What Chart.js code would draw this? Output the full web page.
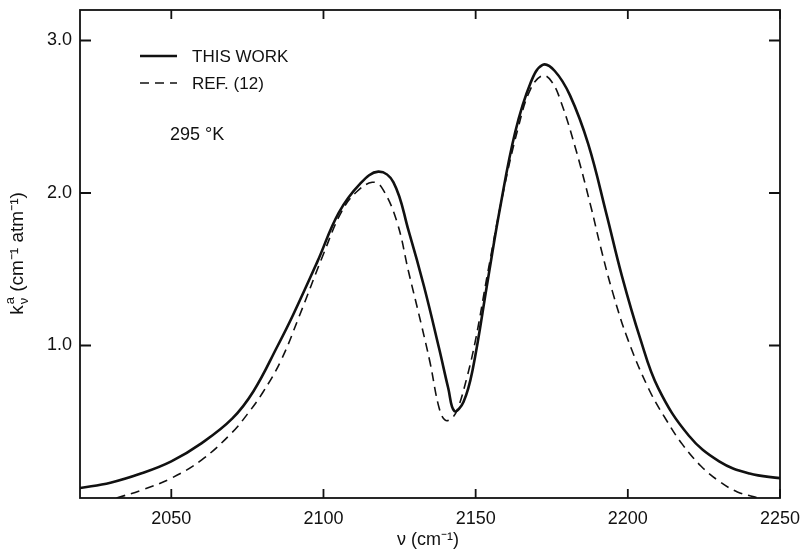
<!DOCTYPE html>
<html lang="en">
<head>
<meta charset="UTF-8">
<title>Absorption coefficient, 295 K</title>
<script src="https://cdn.jsdelivr.net/npm/chart.js"></script>
<style>
  body { margin: 0; background: #fff; }
  canvas { display: block; }
</style>
</head>
<body>
<canvas id="chart" width="802" height="549"></canvas>
<script>
// axis ticks
const xTicks = [2050, 2100, 2150, 2200, 2250];
const yTicks = [1, 2, 3];

// "THIS WORK" curve (solid)
const thisWorkX = [2020, 2030, 2040, 2050, 2060, 2070, 2077, 2085, 2090, 2098, 2105, 2112, 2118, 2123, 2128, 2133, 2138, 2141, 2143, 2146, 2149, 2154, 2158, 2163, 2168, 2172, 2176, 2181, 2187, 2193, 2198, 2204, 2210, 2220, 2230, 2240, 2250];
const thisWorkY = [0.065, 0.10, 0.16, 0.24, 0.36, 0.52, 0.70, 1.00, 1.20, 1.55, 1.87, 2.06, 2.14, 2.07, 1.75, 1.39, 0.98, 0.72, 0.57, 0.63, 0.84, 1.43, 1.90, 2.40, 2.72, 2.84, 2.80, 2.64, 2.32, 1.86, 1.46, 1.05, 0.72, 0.41, 0.24, 0.16, 0.13];

// "REF. (12)" curve (dashed)
const refX = [2032, 2040, 2050, 2060, 2070, 2075, 2080, 2086, 2092, 2100, 2106, 2111, 2116, 2119, 2124, 2128, 2132, 2135, 2138, 2140, 2142, 2144, 2147, 2150, 2154, 2159, 2164, 2168, 2172, 2175, 2178, 2183, 2188, 2191, 2195, 2200, 2207, 2213, 2218, 2224, 2230, 2236, 2243];
const refY = [0.0, 0.05, 0.13, 0.25, 0.43, 0.55, 0.69, 0.90, 1.19, 1.60, 1.88, 2.01, 2.07, 2.04, 1.82, 1.48, 1.15, 0.89, 0.59, 0.51, 0.52, 0.58, 0.78, 1.04, 1.48, 2.00, 2.43, 2.68, 2.77, 2.73, 2.60, 2.28, 1.90, 1.65, 1.35, 1.04, 0.71, 0.50, 0.35, 0.21, 0.11, 0.04, 0.0];

const FONT = '"Liberation Sans", Arial, sans-serif';

function toPoints(xs, ys) {
    return xs.map((x, i) => ({ x: x, y: ys[i] }));
}

// frame, inward ticks, legend and axis titles
const decorations = {
    id: 'decorations',
    afterDraw(chart) {
        const ctx = chart.ctx;
        const a = chart.chartArea;
        const xs = chart.scales.x;
        const ys = chart.scales.y;
        ctx.save();
        ctx.strokeStyle = '#111';
        ctx.lineWidth = 1.8;
        ctx.strokeRect(a.left, a.top, a.right - a.left, a.bottom - a.top);

        ctx.beginPath();
        xTicks.forEach(v => {
            const px = xs.getPixelForValue(v);
            ctx.moveTo(px, a.bottom); ctx.lineTo(px, a.bottom - 9);
            ctx.moveTo(px, a.top); ctx.lineTo(px, a.top + 9);
        });
        yTicks.forEach(v => {
            const py = ys.getPixelForValue(v);
            ctx.moveTo(a.left, py); ctx.lineTo(a.left + 11, py);
            ctx.moveTo(a.right, py); ctx.lineTo(a.right - 11, py);
        });
        ctx.stroke();

        // legend
        ctx.fillStyle = '#111';
        ctx.font = '17px ' + FONT;
        ctx.textBaseline = 'middle';
        ctx.textAlign = 'left';
        chart.data.datasets.forEach((ds, i) => {
            const y = 56 + i * 27;
            ctx.beginPath();
            ctx.lineWidth = ds.borderWidth;
            ctx.setLineDash(ds.borderDash || []);
            ctx.moveTo(140, y); ctx.lineTo(177, y);
            ctx.stroke();
            ctx.setLineDash([]);
            ctx.fillText(ds.label, 192, y + 1);
        });
        ctx.font = '18px ' + FONT;
        ctx.fillText('295 \u00b0K', 170, 135);

        // x axis title
        ctx.textAlign = 'center';
        ctx.font = '18px ' + FONT;
        ctx.fillText('\u03bd (cm\u207b\u00b9)', 428, 540);

        // y axis title: k with superscript a and subscript nu
        ctx.translate(18, (a.top + a.bottom) / 2);
        ctx.rotate(-Math.PI / 2);
        ctx.textAlign = 'left';
        const big = '19px ' + FONT, small = '13px ' + FONT;
        const rest = ' (cm\u207b\u00b9 atm\u207b\u00b9)';
        ctx.font = big;
        const wK = ctx.measureText('k').width;
        const wRest = ctx.measureText(rest).width;
        ctx.font = small;
        const wSub = Math.max(ctx.measureText('a').width, ctx.measureText('\u03bd').width);
        let x0 = -(wK + wSub + wRest) / 2;
        ctx.font = big;
        ctx.fillText('k', x0, 0);
        ctx.font = small;
        ctx.fillText('a', x0 + wK + 1, -8);
        ctx.fillText('\u03bd', x0 + wK + 1, 6);
        ctx.font = big;
        ctx.fillText(rest, x0 + wK + wSub + 1, 0);
        ctx.restore();
    }
};

new Chart(document.getElementById('chart'), {
    type: 'line',
    data: {
        datasets: [
            {
                label: 'THIS WORK',
                data: toPoints(thisWorkX, thisWorkY),
                borderColor: '#111',
                borderWidth: 2.6,
                pointRadius: 0,
                tension: 0.4,
                fill: false
            },
            {
                label: 'REF. (12)',
                data: toPoints(refX, refY),
                borderColor: '#111',
                borderWidth: 1.6,
                borderDash: [9, 6],
                pointRadius: 0,
                tension: 0.4,
                fill: false
            }
        ]
    },
    options: {
        responsive: false,
        animation: false,
        layout: { padding: { left: 0, right: 22, top: 10, bottom: 0 } },
        plugins: {
            legend: { display: false },
            tooltip: { enabled: false }
        },
        scales: {
            x: {
                type: 'linear',
                min: 2020,
                max: 2250,
                afterBuildTicks: s => { s.ticks = xTicks.map(v => ({ value: v })); },
                afterFit: s => { s.height = 51; s.paddingLeft = 0; s.paddingRight = 0; },
                grid: { display: false, drawTicks: false },
                border: { display: false },
                ticks: { color: '#111', font: { family: FONT, size: 18 }, padding: 10, maxRotation: 0, callback: v => String(v) }
            },
            y: {
                min: 0,
                max: 3.2,
                afterBuildTicks: s => { s.ticks = yTicks.map(v => ({ value: v })); },
                afterFit: s => { s.width = 80; s.paddingTop = 0; s.paddingBottom = 0; },
                grid: { display: false, drawTicks: false },
                border: { display: false },
                ticks: { color: '#111', font: { family: FONT, size: 18 }, padding: 8, callback: v => v.toFixed(1) }
            }
        }
    },
    plugins: [decorations]
});
</script>
</body>
</html>
